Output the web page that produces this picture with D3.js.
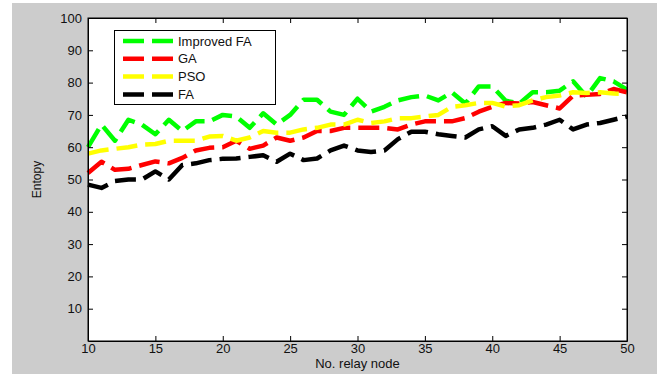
<!DOCTYPE html>
<html>
<head>
<meta charset="utf-8">
<script src="https://cdn.jsdelivr.net/npm/d3@7/dist/d3.min.js"></script>
<style>
  html, body { margin: 0; padding: 0; background: #ffffff; }
  svg { display: block; }
  text { font-family: "Liberation Sans", Arial, sans-serif; }
</style>
</head>
<body>
<svg id="chart" width="665" height="374"></svg>
<script>
const nodes = d3.range(10, 51);
const improvedFA = [60, 67, 62, 68.5, 67, 64, 68.5, 65, 68, 68, 70, 69.5, 66, 70.5, 67, 70, 74.7, 74.7, 71, 70, 75, 71, 72.5, 74.5, 75.5, 76, 74.5, 77, 73.5, 78.8, 78.8, 74.4, 73.5, 77, 77, 77.5, 80.4, 75.7, 81.4, 80.4, 77.8];
const ga = [52, 55.5, 53, 53.3, 54.5, 55.6, 55, 56.7, 59, 59.8, 60, 62, 59.5, 60.5, 63, 62, 63, 65, 65, 66, 66, 66, 66, 65.5, 67, 68, 68, 68, 69, 71, 72.5, 73.7, 73.5, 74, 73, 72, 76, 76.2, 76.5, 78, 77];
const pso = [58, 59, 59.5, 60, 60.8, 61, 62, 62, 62, 63.3, 63.5, 62, 63, 65, 64.5, 64.5, 65.5, 66, 67, 67, 68.5, 67.5, 68, 69, 69, 69.5, 70, 72.5, 73, 73.7, 73.7, 72.6, 73, 74.5, 75.5, 76, 77, 76.8, 77, 76.6, 76.5];
const fa = [48.4, 47.4, 49.5, 50, 50, 52.5, 50, 54.5, 55, 56, 56.4, 56.5, 57, 57.5, 55.5, 58, 56, 56.5, 59, 60.5, 59, 58.5, 59, 62.5, 64.8, 64.8, 64, 63.5, 63, 65.5, 66.5, 63.5, 65.5, 66, 67, 68.5, 65.5, 67, 67.5, 68.5, 69.5];
const seriesNames = ["Improved FA", "GA", "PSO", "FA"];
const seriesColors = ["#00ff00", "#ff0000", "#ffff00", "#000000"];
const xTicks = [10, 15, 20, 25, 30, 35, 40, 45, 50];
const yTicks = [10, 20, 30, 40, 50, 60, 70, 80, 90, 100];
const xTitle = "No. relay node";
const yTitle = "Entopy";

const allSeries = [improvedFA, ga, pso, fa];
const svg = d3.select("#chart");

// figure background
svg.append("rect").attr("x", 12).attr("y", 3).attr("width", 645).attr("height", 371).attr("fill", "#cccccc");

const L = 88, R = 627, T = 18, B = 341;
const x = d3.scaleLinear().domain([10, 50]).range([L, R]);
const y = d3.scaleLinear().domain([0, 100]).range([B, T]);

svg.append("rect").attr("x", L).attr("y", T).attr("width", R - L).attr("height", B - T).attr("fill", "#ffffff");

const plot = svg.append("g");
const line = d3.line().x((d, i) => x(nodes[i])).y(d => y(d));
allSeries.forEach((s, k) => {
  plot.append("path").datum(s)
    .attr("d", line)
    .attr("fill", "none")
    .attr("stroke", seriesColors[k])
    .attr("stroke-width", 4.5)
    .attr("stroke-dasharray", "21,8")
    .attr("stroke-linejoin", "round");
});

// axes
const fs = 13;
const xAxisB = d3.axisBottom(x).tickValues(xTicks).tickSizeInner(-5).tickSizeOuter(0).tickPadding(3);
const gx = svg.append("g").attr("transform", `translate(0,${B})`).call(xAxisB);
gx.selectAll("text").attr("font-size", fs).attr("fill", "#111").attr("font-family", "Liberation Sans, Arial, sans-serif");
const xAxisT = d3.axisTop(x).tickValues(xTicks).tickSizeInner(-5).tickSizeOuter(0).tickFormat("");
svg.append("g").attr("transform", `translate(0,${T})`).call(xAxisT);

const yAxisL = d3.axisLeft(y).tickValues(yTicks).tickSizeInner(-5).tickSizeOuter(0).tickPadding(6);
const gy = svg.append("g").attr("transform", `translate(${L},0)`).call(yAxisL);
gy.selectAll("text").attr("font-size", fs).attr("fill", "#111").attr("font-family", "Liberation Sans, Arial, sans-serif");
const yAxisR = d3.axisRight(y).tickValues(yTicks).tickSizeInner(-5).tickSizeOuter(0).tickFormat("");
svg.append("g").attr("transform", `translate(${R},0)`).call(yAxisR);

svg.selectAll(".domain").attr("stroke", "#000");
svg.selectAll(".tick line").attr("stroke", "#000");

// box
svg.append("rect").attr("x", L).attr("y", T).attr("width", R - L).attr("height", B - T)
  .attr("fill", "none").attr("stroke", "#000").attr("stroke-width", 1);

// titles
svg.append("text").attr("x", (L + R) / 2).attr("y", 368).attr("text-anchor", "middle")
  .attr("font-size", fs).attr("fill", "#111").text(xTitle);
svg.append("text").attr("transform", `translate(41,${(T + B) / 2}) rotate(-90)`).attr("text-anchor", "middle")
  .attr("font-size", fs - 1).attr("fill", "#111").text(yTitle);

// legend
const lg = svg.append("g");
lg.append("rect").attr("x", 114.5).attr("y", 30.5).attr("width", 161).attr("height", 74)
  .attr("fill", "#ffffff").attr("stroke", "#000").attr("stroke-width", 1);
seriesNames.forEach((name, k) => {
  const yy = 41 + k * 17.8;
  lg.append("line").attr("x1", 123).attr("x2", 174).attr("y1", yy).attr("y2", yy)
    .attr("stroke", seriesColors[k]).attr("stroke-width", 4.5).attr("stroke-dasharray", "21,8");
  lg.append("text").attr("x", 178).attr("y", yy + 4.5).attr("font-size", fs).attr("fill", "#111").text(name);
});
</script>
</body>
</html>
